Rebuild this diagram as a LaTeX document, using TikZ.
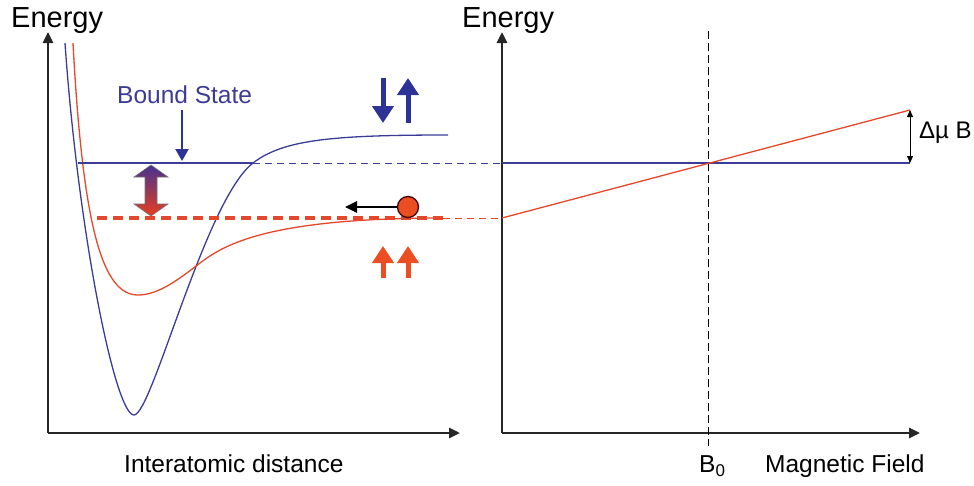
\documentclass[tikz,border=0pt]{standalone}
\usepackage{fontspec}
\setmainfont{Liberation Sans}
\usetikzlibrary{arrows.meta}
\definecolor{bline}{RGB}{60,60,150}
\definecolor{rline}{RGB}{228,72,42}
\definecolor{bspin}{RGB}{45,50,150}
\definecolor{rspin}{RGB}{236,78,35}
\definecolor{gtop}{RGB}{70,50,145}
\definecolor{gbot}{RGB}{232,62,30}
\begin{document}
\begin{tikzpicture}[x=1pt,y=-1pt,
  axisline/.style={line width=2.6pt, black!85, -{Triangle[length=11pt,width=10pt]}},
  lbl/.style={anchor=base west, inner sep=0pt, font=\fontsize{24.5}{28}\selectfont},
  biglbl/.style={anchor=base west, inner sep=0pt, font=\fontsize{29}{32}\selectfont},
  curve/.style={line width=1.3pt, line join=round},
  thindash/.style={line width=1pt, dash pattern=on 7pt off 5pt},
  spin/.style={line width=5pt, -{Triangle[length=17pt,width=21pt]}},
]
\useasboundingbox (0,0) rectangle (974,485);

% coordinates
\coordinate (lo) at (48,433);
\coordinate (ly) at (48,32);
\coordinate (lx) at (460,433);
\coordinate (ro) at (502,433);
\coordinate (ry) at (502,32);
\coordinate (rx) at (920,433);

\coordinate (bsL) at (78,163);
\coordinate (bsX) at (253,163);
\coordinate (bsR) at (502,163);
\coordinate (bsE) at (910,163);
\coordinate (rdL) at (97,218);
\coordinate (rdM) at (443,218);
\coordinate (rdR) at (502,218);
\coordinate (rdE) at (910,110);
\coordinate (vT) at (708,31);
\coordinate (vB) at (708,446);

% axes
\draw[axisline] (lo) -- (ly);
\draw[axisline] (lo) -- (lx);
\draw[axisline] (ro) -- (ry);
\draw[axisline] (ro) -- (rx);

% labels
\node[biglbl] (e1) at (11,27) {Energy};
\node[biglbl] (e2) at (462,27) {Energy};
\node[lbl] (xl) at (124,472) {Interatomic distance};
\node[lbl] (mf) at (765,472) {Magnetic Field};
\node[lbl] (b0) at (699,472) {B\raisebox{-0.35ex}{\fontsize{17}{20}\selectfont 0}};
\node[lbl, text=bline] (bs) at (117,103) {Bound State};
\node[anchor=base west, inner sep=0pt, font=\fontsize{24}{28}\selectfont] (dmb) at (919,138) {Δµ B};

% vertical dashed line B0
\draw[line width=1pt, dash pattern=on 8pt off 4pt] (vT) -- (vB);

% blue curve (singlet potential)
\draw[curve, bline] (65,43) .. controls (78,230) and (115,415) .. (134,415)
  .. controls (152,415) and (205,200) .. (253,163)
  .. controls (283,140) and (330,135) .. (448,135);
% red curve (triplet potential)
\draw[curve, rline] (73,43) .. controls (83,230) and (103,295) .. (138,295)
  .. controls (158,295) and (178,280) .. (200,263)
  .. controls (225,244) and (270,218) .. (443,218);

% bound state line
\draw[line width=1.1pt, bline] (bsL) -- (bsX);
\draw[thindash, bline] (bsX) -- (bsR);
\draw[line width=1.1pt, bline] (bsR) -- (bsE);

% red threshold
\draw[rline, line width=3.5pt, dash pattern=on 10pt off 6pt] (rdL) -- (rdM);
\draw[thindash, rline] (rdM) -- (rdR);
\draw[line width=1.3pt, rline] (rdR) -- (rdE);

% delta mu B arrow
\draw[line width=1pt, {Triangle[length=7pt,width=6pt]}-{Triangle[length=7pt,width=6pt]}] (rdE) -- (bsE);

% bound state pointer
\coordinate (bpT) at (182,110);
\coordinate (bpB) at (182,161);
\draw[bspin, line width=2.2pt, -{Triangle[length=12pt,width=13pt]}] (bpT) -- (bpB);

% gradient double arrow
\shade[top color=gtop, bottom color=gbot, draw=black!55, line width=0.6pt]
  (151,165) -- (168,177) -- (157,177) -- (157,204) -- (168,204) -- (151,216)
  -- (134,204) -- (145,204) -- (145,177) -- (134,177) -- cycle;

% spins blue
\coordinate (s1a) at (383,78);
\coordinate (s1b) at (383,123);
\coordinate (s2a) at (408,123);
\coordinate (s2b) at (408,78);
\draw[spin, bspin] (s1a) -- (s1b);
\draw[spin, bspin] (s2a) -- (s2b);
% spins red
\coordinate (s3a) at (383,278);
\coordinate (s3b) at (383,246);
\coordinate (s4a) at (408,278);
\coordinate (s4b) at (408,246);
\draw[spin, rspin] (s3a) -- (s3b);
\draw[spin, rspin] (s4a) -- (s4b);

% ball and arrow
\node[circle, minimum size=21pt, inner sep=0pt, fill=rspin, draw=black!75!red, line width=1.3pt] (ball) at (408,207) {};
\coordinate (btip) at (345,207);
\draw[line width=2.6pt, -{Triangle[length=12pt,width=11pt]}] (ball.west) -- (btip);
\end{tikzpicture}
\end{document}
